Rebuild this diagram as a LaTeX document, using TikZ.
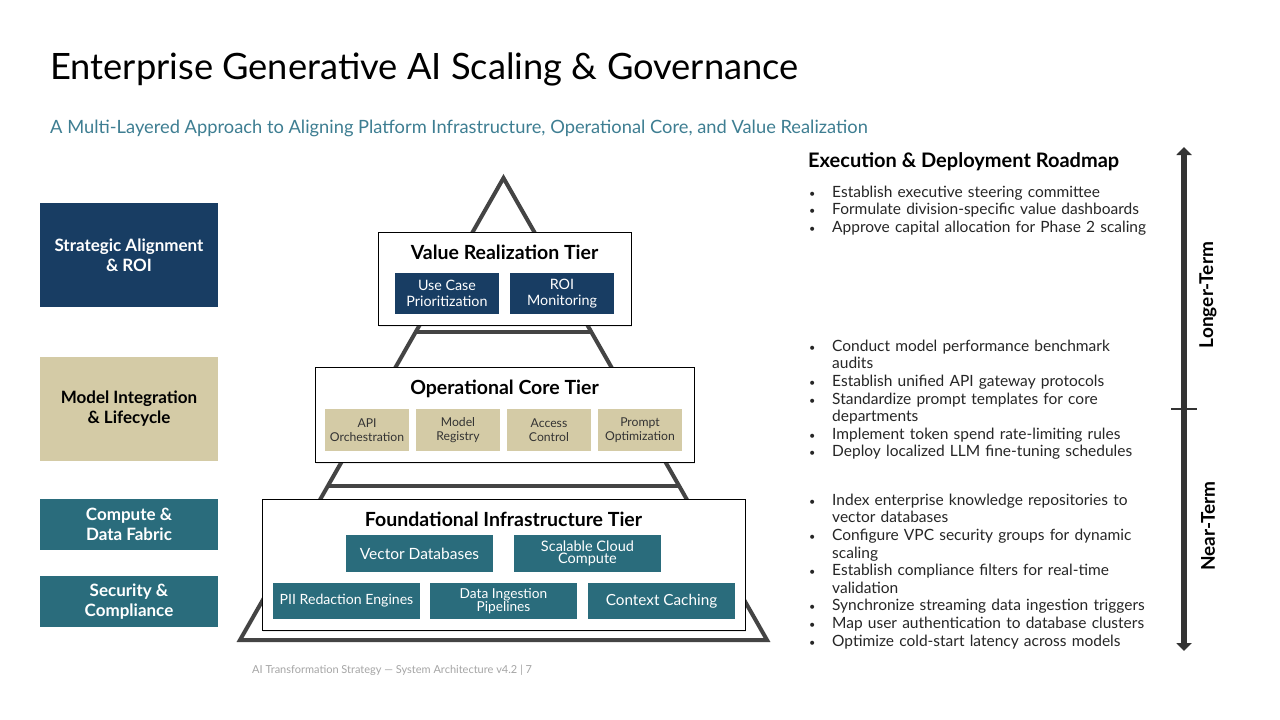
\documentclass[tikz,border=0pt]{standalone}
\usepackage{fontspec}
\setmainfont{Lato}
\usetikzlibrary{arrows.meta,shadows,calc}

\definecolor{navy}{RGB}{24,61,99}
\definecolor{teal}{RGB}{42,108,124}
\definecolor{beige}{RGB}{212,203,166}
\definecolor{subblue}{RGB}{62,126,146}
\definecolor{pyrgray}{RGB}{68,68,68}
\definecolor{footgray}{RGB}{165,165,165}

% bullet line for the roadmap
\newcommand{\rmitem}[1]{\par\noindent\hangindent=24pt\hangafter=1\makebox[24pt][l]{\hspace{1pt}\scalebox{0.7}{\textbullet}}#1}

\tikzset{
  pyr/.style={draw=pyrgray, line width=4pt},
  tier/.style={draw=black, line width=0.8pt, fill=white, inner sep=0pt,
    drop shadow={opacity=0.15, shadow xshift=1pt, shadow yshift=-2pt}},
  tiertitle/.style={font=\bfseries\fontsize{19.5}{22}\selectfont, text=black},
  sidebox/.style={inner sep=0pt, align=center, minimum width=178pt,
    font=\bfseries\fontsize{17}{20}\selectfont},
  navybox/.style={fill=navy, text=white, inner sep=0pt, align=center,
    minimum width=104pt, minimum height=41pt, font=\fontsize{14.3}{16}\selectfont},
  beigebox/.style={fill=beige, text=black!80, inner sep=0pt, align=center,
    minimum width=84pt, minimum height=42pt, font=\fontsize{12.2}{14}\selectfont},
  tealbox/.style={fill=teal, text=white, inner sep=0pt, align=center,
    minimum width=147pt},
  bullets/.style={anchor=north west, inner sep=0pt, text width=380pt,
    align=left, font=\fontsize{15.5}{17.6}\selectfont, text=black!85},
  timeline/.style={draw=black!80, line width=6pt},
  termlabel/.style={rotate=90, font=\bfseries\fontsize{19}{22}\selectfont}
}

\begin{document}
\begin{tikzpicture}[x=1pt,y=-1pt]
\useasboundingbox[fill=white] (0,0) rectangle (1280,720);

% Titulo
\node[anchor=base west, inner sep=0pt, font=\fontsize{36.3}{42}\selectfont] (title) at (50,79)
  {Enterprise Generative AI Scaling \& Governance};
\node[anchor=base west, inner sep=0pt, text=subblue, font=\fontsize{18.3}{21}\selectfont] (subtitle) at (50,133)
  {A Multi-Layered Approach to Aligning Platform Infrastructure, Operational Core, and Value Realization};

% Cajas laterales
\node[sidebox, fill=navy, text=white, minimum height=104pt] (stratroi) at (129,255)
  {Strategic Alignment\\\& ROI};
\node[sidebox, fill=beige, text=black, minimum height=104pt] (modlife) at (129,409)
  {Model Integration\\\& Lifecycle};
\node[sidebox, fill=teal, text=white, minimum height=51pt] (compfab) at (129,524.5)
  {Compute \&\\Data Fabric};
\node[sidebox, fill=teal, text=white, minimum height=51pt] (seccomp) at (129,601.5)
  {Security \&\\Compliance};

% Piramide
\coordinate (apex) at (503.5,178);
\coordinate (baseL) at (240,640);
\coordinate (baseR) at (767,640);
\draw[pyr] (apex) -- (baseL) -- (baseR) -- cycle;
\draw[pyr] ($(apex)!0.3333!(baseL)$) -- ($(apex)!0.3333!(baseR)$);
\draw[pyr] ($(apex)!0.6667!(baseL)$) -- ($(apex)!0.6667!(baseR)$);

% Nivel superior
\node[tier, minimum width=253pt, minimum height=93pt] (valtier) at (504.5,278.5) {};
\node[tiertitle] (valtitle) at (504.5,252) {Value Realization Tier};
\node[navybox] (usecase) at (447,293.5) {Use Case\\Prioritization};
\node[navybox] (roimon) at (562,293.5) {ROI\\Monitoring};

% Nivel medio
\node[tier, minimum width=379pt, minimum height=95pt] (optier) at (504.5,414.5) {};
\node[tiertitle] (optitle) at (504.5,389) {Operational Core Tier};
\node[beigebox] (apiorch) at (367,430) {API\\Orchestration};
\node[beigebox] (modreg) at (458,430) {Model\\Registry};
\node[beigebox] (acctrl) at (549,430) {Access\\Control};
\node[beigebox] (promptopt) at (640,430) {Prompt\\Optimization};

% Nivel base
\node[tier, minimum width=483pt, minimum height=131pt] (fndtier) at (503.5,564.5) {};
\node[tiertitle] (fndtitle) at (503.5,519) {Foundational Infrastructure Tier};
\node[tealbox, minimum height=37pt, font=\fontsize{15.5}{17}\selectfont] (vecdb) at (419.5,553.5) {Vector Databases};
\node[tealbox, minimum height=37pt, font=\fontsize{14.5}{12}\selectfont] (cloudcomp) at (587.5,553.5) {Scalable Cloud\\Compute};
\node[tealbox, minimum height=36pt, font=\fontsize{14.1}{15}\selectfont] (piired) at (346.5,601) {PII Redaction Engines};
\node[tealbox, minimum height=36pt, font=\fontsize{13.7}{12}\selectfont] (dataingest) at (503.5,601) {Data Ingestion\\Pipelines};
\node[tealbox, minimum height=36pt, font=\fontsize{15.3}{17}\selectfont] (ctxcache) at (661.5,601) {Context Caching};

% Pie
\node[anchor=west, inner sep=0pt, text=footgray, font=\fontsize{11}{13}\selectfont] (footer) at (252,670)
  {AI Transformation Strategy — System Architecture v4.2 | 7};

% Hoja de ruta
\node[anchor=base west, inner sep=0pt, font=\bfseries\fontsize{20}{24}\selectfont] (roadmap) at (808,167)
  {Execution \& Deployment Roadmap};
\node[bullets] (longlist) at (808,179.5) {%
  \rmitem{Establish executive steering committee}
  \rmitem{Formulate division-specific value dashboards}
  \rmitem{Approve capital allocation for Phase 2 scaling}};
\node[bullets] (midlist) at (808,333.5) {%
  \rmitem{Conduct model performance benchmark\newline audits}
  \rmitem{Establish unified API gateway protocols}
  \rmitem{Standardize prompt templates for core\newline departments}
  \rmitem{Implement token spend rate-limiting rules}
  \rmitem{Deploy localized LLM fine-tuning schedules}};
\node[bullets] (nearlist) at (808,487.5) {%
  \rmitem{Index enterprise knowledge repositories to\newline vector databases}
  \rmitem{Configure VPC security groups for dynamic\newline scaling}
  \rmitem{Establish compliance filters for real-time\newline validation}
  \rmitem{Synchronize streaming data ingestion triggers}
  \rmitem{Map user authentication to database clusters}
  \rmitem{Optimize cold-start latency across models}};

% Eje de tiempo
\coordinate (tlTop) at (1184,147);
\coordinate (tlBot) at (1184,651);
\coordinate (tickL) at (1171,409);
\coordinate (tickR) at (1197,409);
\draw[timeline, line width=2pt] (tickL) -- (tickR);
\draw[timeline, {Triangle[width=15pt,length=8pt]}-{Triangle[width=15pt,length=8pt]}] (tlTop) -- (tlBot);
\node[termlabel] (longterm) at (1208,295) {Longer-Term};
\node[termlabel] (nearterm) at (1208,526) {Near-Term};
\end{tikzpicture}
\end{document}
